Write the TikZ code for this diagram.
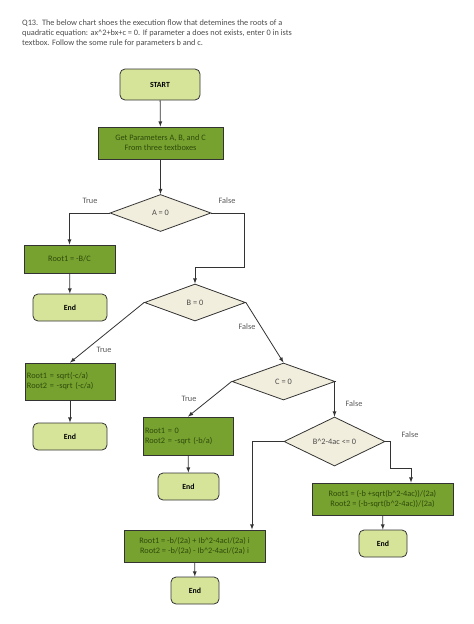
\documentclass[tikz,border=0pt]{standalone}
\usepackage{fontspec}
\setmainfont{Carlito}
\usetikzlibrary{shapes}
\definecolor{lgreen}{HTML}{D6E49A}
\definecolor{dgreen}{HTML}{77A22F}
\definecolor{cream}{HTML}{F2EEDD}
\definecolor{edge}{HTML}{333333}
\definecolor{gtext}{HTML}{2E4A0C}
\tikzstyle{term}=[rectangle,rounded corners=5pt,draw=edge,thick,fill=lgreen,font=\fontsize{7.8}{9}\selectfont\bfseries,inner sep=1pt]
\tikzstyle{proc}=[rectangle,draw=edge,thick,fill=dgreen,text=gtext,inner sep=1pt,align=center]
\tikzstyle{dec}=[diamond,draw=edge,thick,fill=cream,text=black!70,inner sep=0pt,minimum width=101pt,minimum height=37pt]
\tikzstyle{lbl}=[text=black!65]
\tikzstyle{arr}=[-latex,thick,draw=edge]

\begin{document}
\begin{tikzpicture}[x=1pt,y=-1pt,font=\fontsize{8.3}{10}\selectfont]
\useasboundingbox (0,0) rectangle (474,624);
% title
\node[anchor=north west,align=left,text=black!70,inner sep=0pt] (title) at (22,20)
 {Q13.\ \ The below chart shoes the execution flow that detemines the roots of a\\
 quadratic equation: ax\^{}2+bx+c = 0. If parameter a does not exists, enter 0 in ists\\
 textbox. Follow the some rule for parameters b and c.};
% nodes
\node[term,minimum width=80pt,minimum height=31pt] (start) at (160,84.5) {START};
\node[proc,minimum width=125pt,minimum height=32pt] (get) at (160.5,143) {Get Parameters A, B, and C\\From three textboxes};
\node[dec] (da) at (160.5,213) {A = 0};
\node[proc,minimum width=91pt,minimum height=28pt] (r1) at (69.5,259) {Root1 = -B/C};
\node[term,minimum width=74pt,minimum height=27pt] (end1) at (70,307.5) {End};
\node[dec] (db) at (195,302.5) {B = 0};
\node[proc,minimum width=90pt,minimum height=37pt,align=left,text width=86pt] (r2) at (70,381.5) {Root1 = sqrt(-c/a)\\Root2 = -sqrt (-c/a)};
\node[term,minimum width=74pt,minimum height=27pt] (end2) at (70,436.5) {End};
\node[dec,minimum width=103pt] (dc) at (283.5,381.5) {C = 0};
\node[proc,minimum width=90pt,minimum height=38pt,align=left,text width=86pt] (r3) at (188,436) {Root1 = 0\\Root2 = -sqrt (-b/a)};
\node[term,minimum width=61pt,minimum height=27pt] (end3) at (188.5,486.5) {End};
\node[dec] (dd) at (334.5,441.5) {B\^{}2-4ac <= 0};
\node[proc,minimum width=141pt,minimum height=32pt] (r4) at (382.5,499) {Root1 = (-b +sqrt(b\^{}2-4ac))/(2a)\\Root2 = (-b-sqrt(b\^{}2-4ac))/(2a)};
\node[term,minimum width=48pt,minimum height=27pt] (end4) at (383,543.5) {End};
\node[proc,minimum width=141pt,minimum height=32pt] (r5) at (194.5,546) {Root1 = -b/(2a) + Ib\^{}2-4acI/(2a) i\\Root2 = -b/(2a) - Ib\^{}2-4acI/(2a) i};
\node[term,minimum width=48pt,minimum height=27pt] (end5) at (195,590.5) {End};
% connectors
\draw[arr] (start) -- (get);
\draw[arr] (get) -- (da);
\draw[arr] (da.west) -| (r1.north);
\draw[arr] (r1) -- (end1);
\draw[arr] (da.east) -- ++(32.5,0) -- ++(0,54) -| (db.north);
\draw[arr] (db.west) -- (r2.north);
\draw[arr] (r2) -- (end2);
\draw[arr] (db.east) -- (dc.north);
\draw[arr] (dc.west) -- (r3.north);
\draw[arr] (r3) -- (end3);
\draw[arr] (dc.east) -| (dd.north);
\draw[arr] (dd.west) -| ([xshift=57.5pt]r5.north);
\draw[arr] (dd.east) -- ++(5,0) -- ++(0,26.5) -| ([xshift=28.5pt]r4.north);
\draw[arr] (r4) -- (end4);
\draw[arr] (r5) -- (end5);
% labels
\node[lbl] (t1) at (90,201) {True};
\node[lbl] (f1) at (227,201) {False};
\node[lbl] (t2) at (104,350) {True};
\node[lbl] (f2) at (247,327) {False};
\node[lbl] (t3) at (189,399) {True};
\node[lbl] (f3) at (354,404) {False};
\node[lbl] (f4) at (410,435) {False};
\end{tikzpicture}
\end{document}
